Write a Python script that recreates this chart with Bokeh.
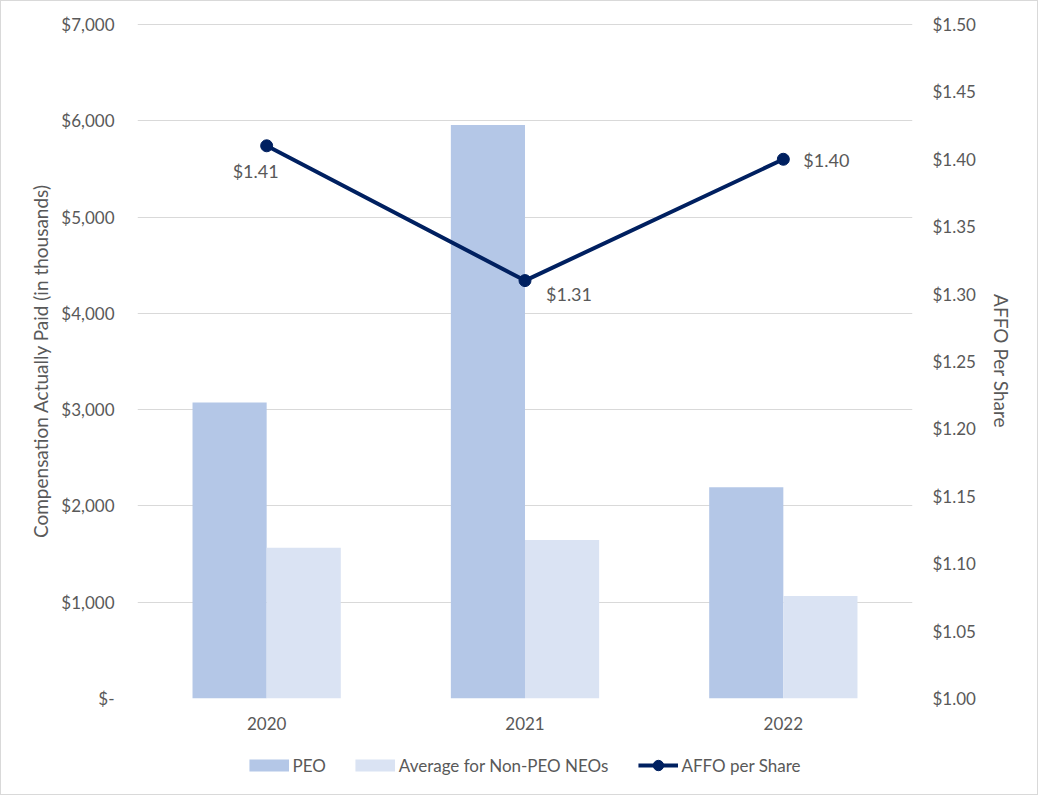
import numpy as np
from bokeh.plotting import figure
from bokeh.layouts import column
from bokeh.models import (Range1d, LinearAxis, FixedTicker, FactorRange, Legend,
                          LegendItem, ColumnDataSource)
from bokeh.transform import dodge
from bokeh.core.properties import value
from bokeh.embed import file_html
from bokeh.resources import INLINE

# ---- data ----
years = ["2020", "2021", "2022"]
peo = [3075, 5955, 2195]
non_peo = [1565, 1645, 1065]
affo = [1.41, 1.31, 1.40]
affo_labels = ["$1.41", "$1.31", "$1.40"]
series_names = ["PEO", "Average for Non-PEO NEOs", "AFFO per Share"]

left_ticks = [0, 1000, 2000, 3000, 4000, 5000, 6000, 7000]
left_tick_labels = ["$-", "$1,000", "$2,000", "$3,000", "$4,000", "$5,000", "$6,000", "$7,000"]
right_ticks = [1.00, 1.05, 1.10, 1.15, 1.20, 1.25, 1.30, 1.35, 1.40, 1.45, 1.50]
right_tick_labels = ["$1.00", "$1.05", "$1.10", "$1.15", "$1.20", "$1.25", "$1.30",
                     "$1.35", "$1.40", "$1.45", "$1.50"]

# ---- styles ----
FONT = "Lato"
TXT = "#595959"
GRID = "#d9d9d9"
C_PEO = "#b4c7e7"
C_NON = "#dae3f3"
C_LINE = "#002060"
BAR_W = 0.287
label_dx = [-11, 44, 43]
label_dy = [25, 13, 1]

W = 1036
src = ColumnDataSource(dict(year=years, peo=peo, non_peo=non_peo, affo=affo,
                            lab=affo_labels, dx=label_dx, dy=label_dy))

p = figure(x_range=FactorRange(factors=years), y_range=Range1d(0, 7010),
           width=W, height=737, output_backend="svg", toolbar_location=None,
           min_border_left=136, min_border_right=125, min_border_top=22,
           min_border_bottom=40)
p.extra_y_ranges = {"affo": Range1d(1.0, 1.5 + 0.5 * 10 / 7000)}
p.outline_line_color = None
p.background_fill_color = "white"
p.border_fill_color = "white"

p.vbar(x=dodge("year", -BAR_W / 2, range=p.x_range), top="peo", width=BAR_W,
       source=src, fill_color=C_PEO, line_color=None)
p.vbar(x=dodge("year", BAR_W / 2, range=p.x_range), top="non_peo", width=BAR_W,
       source=src, fill_color=C_NON, line_color=None)
p.line(x="year", y="affo", source=src, y_range_name="affo",
       line_color=C_LINE, line_width=4)
p.scatter(x="year", y="affo", source=src, y_range_name="affo", size=12,
          fill_color=C_LINE, line_color=C_LINE)
p.text(x="year", y="affo", text="lab", source=src, y_range_name="affo",
       x_offset="dx", y_offset="dy", text_font=value(FONT), text_font_size="18px",
       text_color=TXT, text_align="center", text_baseline="middle")

# grid
p.xgrid.grid_line_color = None
p.ygrid.grid_line_color = GRID
p.ygrid.grid_line_width = 1

# left axis
ya = p.yaxis[0]
ya.ticker = FixedTicker(ticks=left_ticks)
ya.major_label_overrides = {t: l for t, l in zip(left_ticks, left_tick_labels)}
ya.axis_label = "Compensation Actually Paid (in thousands)"

# right axis
ra = LinearAxis(y_range_name="affo", ticker=FixedTicker(ticks=right_ticks),
                major_label_overrides={t: l for t, l in zip(right_ticks, right_tick_labels)},
                axis_label="AFFO Per Share")
p.add_layout(ra, "right")

for ax in [ya, ra, p.xaxis[0]]:
    ax.axis_line_color = None
    ax.major_tick_line_color = None
    ax.minor_tick_line_color = None
    ax.major_label_text_font = FONT
    ax.major_label_text_font_size = "17px"
    ax.major_label_text_color = TXT
    ax.axis_label_text_font = FONT
    ax.axis_label_text_font_size = "19px"
    ax.axis_label_text_color = TXT
    ax.axis_label_text_font_style = "normal"
ya.major_label_standoff = 17
ra.major_label_standoff = 14
ya.axis_label_standoff = 6
ra.axis_label_standoff = 11
p.xaxis[0].major_label_standoff = 12

# ---- legend strip (legend placed in its own figure below the chart) ----
leg = figure(width=W, height=56, output_backend="svg", toolbar_location=None,
             x_range=Range1d(0, 1), y_range=Range1d(0, 1),
             x_axis_location=None, y_axis_location=None,
             min_border_left=136, min_border_right=125, min_border_top=0,
             min_border_bottom=2)
leg.outline_line_color = None
leg.background_fill_color = "white"
leg.border_fill_color = "white"
for g in leg.grid:
    g.visible = False

nan = np.array([np.nan])
k1 = leg.line(x=nan, y=nan, line_color=C_PEO, line_width=12, line_cap="butt")
k2 = leg.line(x=nan, y=nan, line_color=C_NON, line_width=12, line_cap="butt")
k3 = leg.line(x=nan, y=nan, line_color=C_LINE, line_width=4)
k4 = leg.scatter(x=nan, y=nan, size=12, fill_color=C_LINE, line_color=C_LINE)

legend = Legend(items=[
    LegendItem(label=series_names[0], renderers=[k1]),
    LegendItem(label=series_names[1], renderers=[k2]),
    LegendItem(label=series_names[2], renderers=[k3, k4]),
], orientation="horizontal", location="center", glyph_width=40, glyph_height=26,
    label_standoff=4, spacing=29, padding=0, margin=0, border_line_color=None,
    background_fill_alpha=0, label_text_font=FONT, label_text_font_size="17px",
    label_text_color=TXT)
leg.add_layout(legend, "center")

lay = column(p, leg, spacing=0, styles={"border": "1px solid #d9d9d9"})

open("out.html", "w").write(file_html(lay, INLINE))
